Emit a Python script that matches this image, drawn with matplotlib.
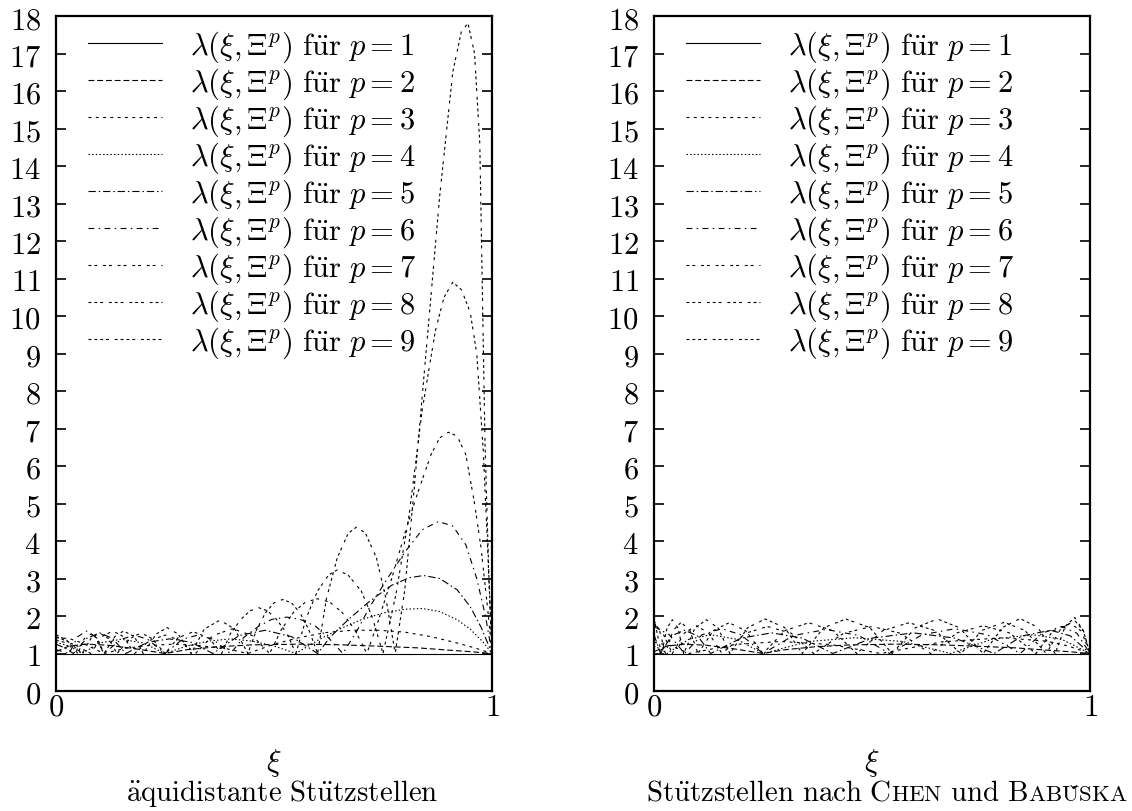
import matplotlib
matplotlib.use('Agg')
import matplotlib.pyplot as plt

# equidistant nodes (left panel), lambda values
eq_x1 = [0, 1]
eq_y1 = [1, 1]
eq_x2 = [0, 0.03, 0.07, 0.12, 0.18, 0.25, 0.3, 0.37, 0.45, 0.56, 0.66, 0.75, 0.83, 0.9, 0.95, 1]
eq_y2 = [1.05, 1.2, 1.25, 1.22, 1.13, 1.0, 1.1, 1.18, 1.23, 1.25, 1.23, 1.19, 1.15, 1.09, 1.05, 1.0]
eq_x3 = [0, 0.03, 0.06, 0.11, 0.16, 0.21, 0.27, 0.33, 0.39, 0.44, 0.5, 0.56, 0.62, 0.68, 0.74, 0.8, 0.86, 0.92, 0.96, 1]
eq_y3 = [1.42, 1.4, 1.28, 1.0, 1.14, 1.21, 1.25, 1.21, 1.13, 1.0, 1.25, 1.43, 1.56, 1.62, 1.62, 1.57, 1.45, 1.28, 1.15, 1.0]
eq_x4 = [0, 0.03, 0.06, 0.1, 0.15, 0.2, 0.25, 0.3, 0.35, 0.4, 0.45, 0.5, 0.55, 0.6, 0.65, 0.7, 0.75, 0.8, 0.84, 0.88, 0.92, 0.95, 0.98, 1]
eq_y4 = [1.3, 1.2, 1.0, 1.28, 1.38, 1.28, 1.0, 1.2, 1.33, 1.39, 1.33, 1.2, 1.0, 1.35, 1.65, 1.9, 2.08, 2.18, 2.2, 2.12, 1.9, 1.65, 1.3, 1.0]
eq_x5 = [0, 0.02, 0.04, 0.07, 0.1, 0.13, 0.16, 0.21, 0.26, 0.31, 0.36, 0.42, 0.48, 0.54, 0.6, 0.63, 0.67, 0.72, 0.77, 0.81, 0.843, 0.88, 0.92, 0.95, 0.975, 1]
eq_y5 = [1.25, 1.15, 1.0, 1.4, 1.55, 1.4, 1.0, 1.3, 1.39, 1.3, 1.0, 1.48, 1.62, 1.45, 1.0, 1.45, 1.9, 2.4, 2.82, 3.02, 3.08, 3.0, 2.7, 2.25, 1.7, 1.0]
eq_x6 = [0, 0.03, 0.05, 0.07, 0.09, 0.11, 0.15, 0.18, 0.21, 0.25, 0.29, 0.325, 0.36, 0.40, 0.43, 0.465, 0.495, 0.53, 0.56, 0.595, 0.625, 0.658, 0.69, 0.72, 0.76, 0.80, 0.84, 0.877, 0.91, 0.94, 0.965, 0.985, 1]
eq_y6 = [1.1, 1.0, 1.45, 1.6, 1.45, 1.0, 1.38, 1.49, 1.38, 1.0, 1.38, 1.49, 1.38, 1.0, 1.42, 1.73, 1.91, 1.97, 1.91, 1.73, 1.42, 1.0, 1.6, 2.25, 3.0, 3.7, 4.3, 4.52, 4.4, 3.9, 3.0, 2.0, 1.0]
eq_x7 = [0, 0.04, 0.08, 0.105, 0.13, 0.155, 0.18, 0.215, 0.25, 0.285, 0.32, 0.36, 0.405, 0.45, 0.49, 0.517, 0.545, 0.572, 0.6, 0.628, 0.656, 0.685, 0.713, 0.74, 0.77, 0.80, 0.83, 0.86, 0.88, 0.90, 0.92, 0.94, 0.96, 0.975, 0.99, 1]
eq_y7 = [1.35, 1.25, 1.0, 1.45, 1.6, 1.45, 1.0, 1.35, 1.49, 1.35, 1.0, 1.48, 1.66, 1.48, 1.0, 1.64, 2.1, 2.37, 2.46, 2.37, 2.1, 1.64, 1.0, 1.9, 3.0, 4.2, 5.3, 6.3, 6.75, 6.9, 6.8, 6.3, 5.0, 3.8, 2.2, 1.0]
eq_x8 = [0, 0.03, 0.06, 0.08, 0.10, 0.12, 0.14, 0.17, 0.195, 0.22, 0.25, 0.28, 0.315, 0.35, 0.38, 0.40, 0.425, 0.445, 0.465, 0.485, 0.505, 0.53, 0.55, 0.575, 0.60, 0.625, 0.645, 0.67, 0.70, 0.725, 0.75, 0.78, 0.81, 0.84, 0.87, 0.89, 0.91, 0.93, 0.95, 0.965, 0.98, 0.99, 1]
eq_y8 = [1.45, 1.3, 1.0, 1.4, 1.55, 1.4, 1.0, 1.4, 1.55, 1.4, 1.0, 1.42, 1.58, 1.42, 1.0, 1.53, 1.92, 2.14, 2.22, 2.14, 1.92, 1.53, 1.0, 1.98, 2.67, 3.09, 3.23, 3.09, 2.67, 1.98, 1.0, 2.6, 4.7, 7.5, 9.6, 10.5, 10.9, 10.7, 10.1, 9.0, 6.4, 3.8, 1.0]
eq_x9 = [0, 0.025, 0.05, 0.065, 0.08, 0.095, 0.11, 0.135, 0.155, 0.18, 0.20, 0.23, 0.255, 0.28, 0.31, 0.34, 0.376, 0.41, 0.44, 0.46, 0.48, 0.50, 0.52, 0.54, 0.56, 0.58, 0.60, 0.62, 0.645, 0.67, 0.69, 0.71, 0.735, 0.757, 0.778, 0.80, 0.82, 0.85, 0.88, 0.91, 0.93, 0.945, 0.96, 0.972, 0.984, 0.993, 1]
eq_y9 = [1.5, 1.35, 1.0, 1.4, 1.52, 1.4, 1.0, 1.45, 1.6, 1.45, 1.0, 1.52, 1.69, 1.52, 1.0, 1.65, 1.89, 1.65, 1.0, 1.63, 2.08, 2.35, 2.44, 2.35, 2.08, 1.63, 1.0, 2.45, 3.55, 4.2, 4.38, 4.2, 3.55, 2.45, 1.0, 2.7, 5.2, 9.2, 13.2, 16.5, 17.6, 17.8, 17.0, 14.6, 6.6, 3.0, 1.0]

# nodes after Chen and Babuska (right panel)
cb_x1 = [0, 1]
cb_y1 = [1, 1]
cb_x2 = [0, 0.03, 0.07, 0.12, 0.18, 0.25, 0.3, 0.37, 0.45, 0.56, 0.66, 0.75, 0.83, 0.9, 0.95, 1]
cb_y2 = [1.05, 1.2, 1.25, 1.22, 1.13, 1.0, 1.1, 1.18, 1.23, 1.25, 1.23, 1.19, 1.15, 1.09, 1.05, 1.0]
cb_x3 = [0, 0.04, 0.08, 0.185, 0.29, 0.405, 0.52, 0.66, 0.8, 0.9, 0.95, 1]
cb_y3 = [1.3, 1.2, 1.0, 1.24, 1.32, 1.24, 1.0, 1.31, 1.42, 1.33, 1.2, 1.0]
cb_x4 = [0, 0.015, 0.03, 0.08, 0.13, 0.19, 0.25, 0.355, 0.46, 0.57, 0.68, 0.775, 0.87, 0.935, 1]
cb_y4 = [1.2, 1.12, 1.0, 1.38, 1.5, 1.38, 1.0, 1.32, 1.42, 1.32, 1.0, 1.38, 1.5, 1.38, 1.0]
cb_x5 = [0, 0.015, 0.04, 0.07, 0.1, 0.13, 0.2, 0.27, 0.34, 0.41, 0.5, 0.595, 0.69, 0.78, 0.845, 0.91, 0.955, 1]
cb_y5 = [1.5, 1.0, 1.47, 1.62, 1.47, 1.0, 1.41, 1.55, 1.41, 1.0, 1.41, 1.55, 1.41, 1.0, 1.47, 1.62, 1.47, 1.0]
cb_x6 = [0, 0.035, 0.07, 0.11, 0.155, 0.2, 0.25, 0.32, 0.395, 0.47, 0.54, 0.615, 0.69, 0.765, 0.84, 0.89, 0.935, 0.97, 1]
cb_y6 = [1.72, 1.5, 1.0, 1.5, 1.66, 1.5, 1.0, 1.48, 1.64, 1.48, 1.0, 1.5, 1.66, 1.5, 1.0, 1.54, 1.72, 1.54, 1.0]
cb_x7 = [0, 0.02, 0.042, 0.07, 0.097, 0.125, 0.156, 0.21, 0.26, 0.315, 0.366, 0.435, 0.5, 0.565, 0.634, 0.695, 0.755, 0.815, 0.876, 0.915, 0.955, 0.98, 1]
cb_y7 = [1.8, 1.55, 1.0, 1.55, 1.74, 1.55, 1.0, 1.54, 1.72, 1.54, 1.0, 1.54, 1.72, 1.54, 1.0, 1.55, 1.74, 1.55, 1.0, 1.6, 1.8, 1.6, 1.0]
cb_x8 = [0, 0.013, 0.026, 0.044, 0.062, 0.082, 0.101, 0.136, 0.172, 0.21, 0.25, 0.30, 0.355, 0.41, 0.465, 0.525, 0.585, 0.645, 0.704, 0.753, 0.803, 0.85, 0.9, 0.933, 0.965, 0.985, 1]
cb_y8 = [1.87, 1.6, 1.0, 1.62, 1.83, 1.62, 1.0, 1.61, 1.82, 1.61, 1.0, 1.61, 1.82, 1.61, 1.0, 1.61, 1.82, 1.61, 1.0, 1.62, 1.83, 1.62, 1.0, 1.66, 1.88, 1.6, 1.0]
cb_x9 = [0, 0.008, 0.017, 0.03, 0.042, 0.055, 0.068, 0.094, 0.12, 0.147, 0.174, 0.215, 0.255, 0.3, 0.34, 0.39, 0.44, 0.495, 0.546, 0.6, 0.65, 0.7, 0.755, 0.8, 0.84, 0.88, 0.92, 0.943, 0.965, 0.985, 1]
cb_y9 = [1.93, 1.5, 1.0, 1.68, 1.9, 1.68, 1.0, 1.68, 1.9, 1.68, 1.0, 1.69, 1.92, 1.69, 1.0, 1.69, 1.92, 1.69, 1.0, 1.69, 1.92, 1.69, 1.0, 1.7, 1.93, 1.7, 1.0, 1.72, 1.96, 1.6, 1.0]

degrees = [1, 2, 3, 4, 5, 6, 7, 8, 9]
yticks = list(range(19))

eq_x = [eq_x1, eq_x2, eq_x3, eq_x4, eq_x5, eq_x6, eq_x7, eq_x8, eq_x9]
eq_y = [eq_y1, eq_y2, eq_y3, eq_y4, eq_y5, eq_y6, eq_y7, eq_y8, eq_y9]
cb_x = [cb_x1, cb_x2, cb_x3, cb_x4, cb_x5, cb_x6, cb_x7, cb_x8, cb_x9]
cb_y = [cb_y1, cb_y2, cb_y3, cb_y4, cb_y5, cb_y6, cb_y7, cb_y8, cb_y9]

plt.rcParams['mathtext.fontset'] = 'cm'
plt.rcParams['font.family'] = ['DejaVu Serif']
plt.rcParams['lines.scale_dashes'] = False

# gnuplot-like dash patterns
u = 1.05
styles = ['-',
          (0, (4*u, 2*u)),
          (0, (2*u, 3*u)),
          (0, (1*u, 1.5*u)),
          (0, (5*u, 2*u, 1*u, 2*u)),
          (0, (4*u, 3*u, 1*u, 3*u)),
          (0, (2*u, 2*u, 2*u, 4*u)),
          (0, (2*u, 2*u, 2*u, 2*u, 2*u, 4*u)),
          (0, (2*u, 2*u, 2*u, 2*u, 2*u, 2*u, 2*u, 4*u))]

FS = 22
TFS = 20.8
SC = 16.5


def panel(ax, xs, ys):
    for i, p in enumerate(degrees):
        ax.plot(xs[i], ys[i], color='black', lw=0.8, linestyle=styles[i],
                label=r'$\lambda(\xi,\Xi^p)\ \mathrm{f\ddot{u}r}\ p=%d$' % p)
    ax.set_xlim(0, 1)
    ax.set_ylim(0, 18)
    ax.set_xticks([0, 1])
    ax.set_xticklabels(['$0$', '$1$'])
    ax.set_yticks(yticks)
    ax.set_yticklabels(['$%d$' % v for v in yticks])
    ax.tick_params(axis='y', direction='in', length=7, width=1.2, labelsize=FS,
                   right=True, pad=11)
    ax.tick_params(axis='x', direction='in', length=0, labelsize=FS, pad=0)
    for s in ax.spines.values():
        s.set_linewidth(1.6)
    ax.set_xlabel(r'$\xi$', fontsize=FS)
    ax.xaxis.set_label_coords(0.5, -0.082)
    ax.legend(loc='upper left', bbox_to_anchor=(0.045, 1.0), frameon=False,
              fontsize=FS, handlelength=2.42, handletextpad=0.92,
              labelspacing=0.05, borderaxespad=0.0)


fig = plt.figure(figsize=(11.32, 8.12), dpi=100)
ax1 = fig.add_axes([56/1132, 1-692/812, 436/1132, 675/812])
ax2 = fig.add_axes([654/1132, 1-692/812, 436/1132, 675/812])
panel(ax1, eq_x, eq_y)
panel(ax2, cb_x, cb_y)

ybase = 1 - 801/812
fig.text(282/1132, ybase, r'$\mathrm{\ddot{a}quidistante\ St\ddot{u}tzstellen}$',
         ha='center', va='baseline', fontsize=TFS)

# "Stuetzstellen nach Chen und Babuska" with small caps pieces
t = fig.text(646/1132, ybase, r'$\mathrm{St\ddot{u}tzstellen\ nach\ C}$',
             ha='left', va='baseline', fontsize=TFS)
pieces = [(r'$\mathrm{HEN}$', SC), (r'$\mathrm{\ und\ B}$', TFS),
          (r'$\mathrm{ABU\check{S}KA}$', SC)]
for txt, size in pieces:
    t = ax2.annotate(txt, xy=(1, ybase), xycoords=(t, 'figure fraction'),
                     ha='left', va='baseline', fontsize=size,
                     annotation_clip=False)

plt.savefig('out.png', dpi=100)
